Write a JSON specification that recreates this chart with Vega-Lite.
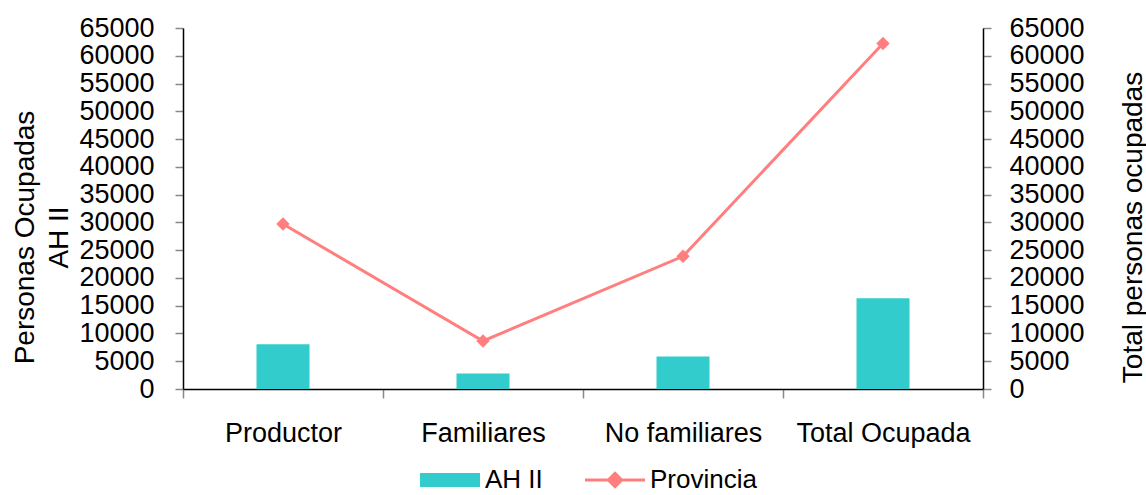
{
  "$schema": "https://vega.github.io/schema/vega-lite/v6.json",
  "autosize": {"type": "none"},
  "width": 800,
  "height": 361,
  "padding": {"left": 183, "top": 28, "right": 163, "bottom": 106},
  "background": "white",
  "config": {
    "view": {"stroke": null},
    "font": "Liberation Sans",
    "axis": {"labelFont": "Liberation Sans", "titleFont": "Liberation Sans", "labelColor": "black", "titleColor": "black", "labelFontSize": 27, "titleFontSize": 28, "titleFontWeight": "normal", "domainColor": "black", "domainWidth": 1.5, "tickColor": "#888888", "tickWidth": 1.5, "grid": false},
    "legend": {"labelFont": "Liberation Sans", "labelFontSize": 26, "labelColor": "black"}
  },
  "data": {
    "values": [
      {"categoria": "Productor", "serie": "AH II", "valor": 8050},
      {"categoria": "Familiares", "serie": "AH II", "valor": 2800},
      {"categoria": "No familiares", "serie": "AH II", "valor": 5850},
      {"categoria": "Total Ocupada", "serie": "AH II", "valor": 16350},
      {"categoria": "Productor", "serie": "Provincia", "valor": 29700},
      {"categoria": "Familiares", "serie": "Provincia", "valor": 8650},
      {"categoria": "No familiares", "serie": "Provincia", "valor": 23900},
      {"categoria": "Total Ocupada", "serie": "Provincia", "valor": 62200}
    ]
  },
  "encoding": {
    "x": {
      "field": "categoria", "type": "nominal", "sort": null,
      "scale": {"type": "band", "paddingInner": 0, "paddingOuter": 0},
      "axis": {"title": null, "labelAngle": 0, "tickBand": "extent", "tickSize": 9, "labelPadding": 22, "domainColor": "black"}
    },
    "color": {
      "field": "serie", "type": "nominal",
      "scale": {"domain": ["AH II", "Provincia"], "range": ["#33CCCC", "#FF7F7F"]},
      "legend": {
        "orient": "none", "legendX": 254, "legendY": 439, "direction": "horizontal", "title": null,
        "symbolSize": 3600, "labelOffset": 22, "columnPadding": 36,
        "encode": {
          "symbols": {
            "update": {
              "shape": {"signal": "datum.value === 'AH II' ? 'M-1,-0.233H1V0.233H-1Z' : 'M-1,0H1M0,-0.22L0.22,0L0,0.22L-0.22,0Z'"},
              "fill": {"signal": "datum.value === 'AH II' ? '#33CCCC' : '#FF7F7F'"},
              "stroke": {"signal": "datum.value === 'AH II' ? '#33CCCC' : '#FF7F7F'"},
              "strokeWidth": {"signal": "datum.value === 'AH II' ? 0 : 3"},
              "opacity": {"value": 1}
            }
          }
        }
      }
    }
  },
  "layer": [
    {
      "transform": [{"filter": "datum.serie === 'AH II'"}],
      "mark": {"type": "bar", "width": {"band": 0.265}},
      "encoding": {
        "y": {
          "field": "valor", "type": "quantitative",
          "scale": {"domain": [0, 65000], "nice": false},
          "axis": {"orient": "left", "values": [0,5000,10000,15000,20000,25000,30000,35000,40000,45000,50000,55000,60000,65000], "format": "d", "tickSize": 8, "labelPadding": 21,
            "title": ["Personas Ocupadas", "AH II"], "titleAngle": -90, "titleAlign": "center", "titleBaseline": "top", "titleX": -172, "titleY": 209, "titleLineHeight": 34}
        }
      }
    },
    {
      "transform": [{"filter": "datum.serie === 'Provincia'"}],
      "mark": {"type": "line", "strokeWidth": 3, "point": {"shape": "diamond", "size": 180, "filled": true, "opacity": 1}},
      "encoding": {
        "y": {
          "field": "valor", "type": "quantitative",
          "scale": {"domain": [0, 65000], "nice": false},
          "axis": {"orient": "right", "values": [0,5000,10000,15000,20000,25000,30000,35000,40000,45000,50000,55000,60000,65000], "format": "d", "tickSize": 8, "labelPadding": 18,
            "title": "Total  personas ocupadas", "titleAngle": -90, "titleAlign": "center", "titleBaseline": "top", "titleX": 136, "titleY": 199}
        }
      }
    }
  ],
  "resolve": {"scale": {"y": "independent"}}
}
